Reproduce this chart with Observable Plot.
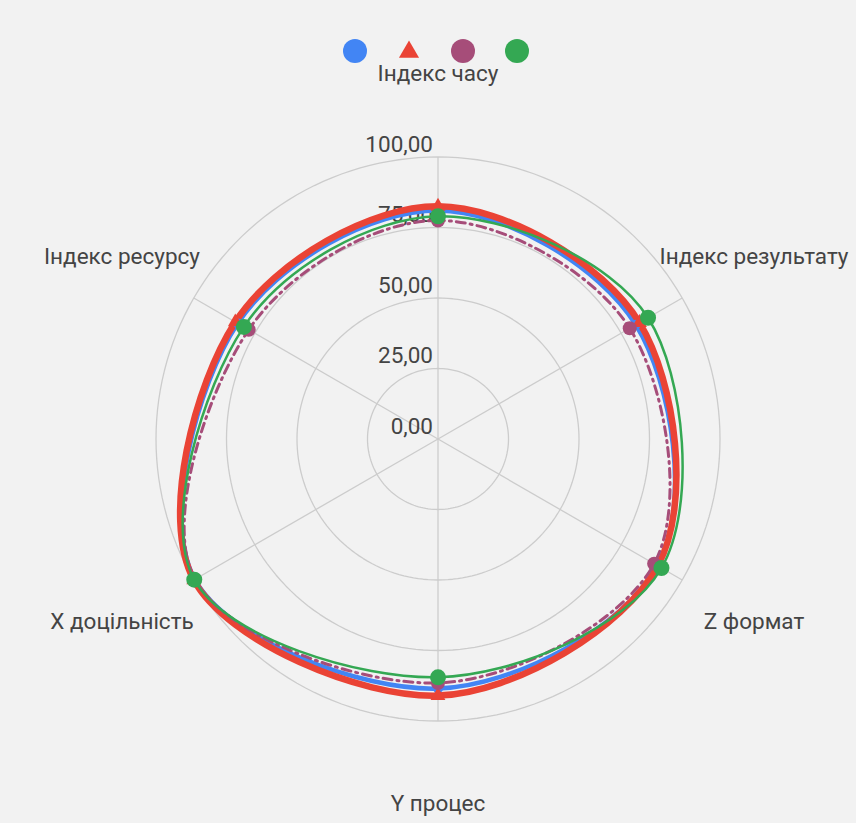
<!DOCTYPE html>
<html><head><meta charset="utf-8">
<script src="https://cdn.jsdelivr.net/npm/d3@7"></script>
<script src="https://cdn.jsdelivr.net/npm/@observablehq/plot@0.6"></script>
<style>
html,body{margin:0;padding:0;background:#f2f2f2;font-family:Roboto,sans-serif;}
#legend{height:60px;width:856px;}
#legend svg{display:block;overflow:visible;}
</style></head><body>
<div id="legend"></div>
<div id="chart"></div>
<script>
// ---- data ----
const categories = ["Індекс часу", "Індекс результату", "Z формат", "Y процес", "X доцільність", "Індекс ресурсу"];
const seriesNames = ["Серія 1", "Серія 2", "Серія 3", "Серія 4"];
const blueValues   = [81.0, 81.0, 90.0, 88.5, 99.6, 82.0];
const redValues    = [82.5, 82.5, 90.0, 91.0, 100.0, 83.0];
const purpleValues = [77.5, 78.5, 88.5, 86.5, 99.6, 77.5];
const greenValues  = [79.0, 86.0, 91.5, 84.5, 99.8, 79.5];
const ringValues = [25, 50, 75, 100];
const tickValues = [0, 25, 50, 75, 100];
const tickLabels = ["0,00", "25,00", "50,00", "75,00", "100,00"];

// ---- styles ----
const seriesStyles = [
  {color: "#4285f4", width: 4.5, dash: null, symbol: "circle", r: 5},
  {color: "#ea4335", width: 6.5, dash: null, symbol: "triangle", r: 5.5},
  {color: "#a64d79", width: 3, dash: "9,5,2,5", symbol: "circle", r: 7},
  {color: "#34a853", width: 2.5, dash: null, symbol: "circle", r: 8}
];
const seriesValues = [blueValues, redValues, purpleValues, greenValues];

// ---- legend ----
const leg = d3.select("#legend").append("svg").attr("width", 856).attr("height", 70);
seriesNames.forEach((name, i) => {
  const st = seriesStyles[i];
  const cxL = 436 + (i - 1.5) * 54, cyL = 51;
  if (st.symbol === "triangle") {
    leg.append("path").attr("d", d3.symbol(d3.symbolTriangle, 175)())
      .attr("transform", `translate(${cxL},${cyL + 1})`).attr("fill", st.color);
  } else {
    leg.append("circle").attr("cx", cxL).attr("cy", cyL).attr("r", 12).attr("fill", st.color);
  }
});

// ---- geometry ----
const W = 856, H = 763, cx = 437.5, cy = 378.5, k = 2.82;
const n = categories.length;
const ang = i => i * 2 * Math.PI / n;
const px = (v, i) => v * Math.sin(ang(i));
const py = (v, i) => v * Math.cos(ang(i));

const rows = [];
seriesNames.forEach((s, si) => seriesValues[si].forEach((v, i) =>
  rows.push({series: s, si, cat: categories[i], value: v, x: px(v, i), y: py(v, i)})));

const ringPts = [];
ringValues.forEach(r => { for (let a = 0; a < 360; a += 2) {
  const t = a * Math.PI / 180; ringPts.push({r, x: r * Math.sin(t), y: r * Math.cos(t)}); } });

const labelR = 129.4;

const marks = [
  Plot.line(ringPts, {x: "x", y: "y", z: "r", curve: "linear-closed", stroke: "#cccccc", strokeWidth: 1.3}),
  Plot.link(categories, {x1: () => 0, y1: () => 0, x2: (d, i) => px(100, i), y2: (d, i) => py(100, i), stroke: "#cccccc", strokeWidth: 1.3}),
  Plot.text(tickValues, {x: () => 0, y: d => d, text: (d, i) => tickLabels[i], textAnchor: "end", dx: -5, dy: -12.5, fontSize: 22.5, fill: "#444444"}),
  Plot.text(categories, {x: (d, i) => px(labelR, i), y: (d, i) => py(labelR, i), text: d => d, fontSize: 22.5, fill: "#444444"})
];
seriesNames.forEach((s, si) => {
  const st = seriesStyles[si];
  marks.push(Plot.line(rows.filter(d => d.si === si), {x: "x", y: "y", curve: "cardinal-closed",
    stroke: st.color, strokeWidth: st.width, strokeDasharray: st.dash, strokeLinejoin: "round"}));
});
seriesNames.forEach((s, si) => {
  const st = seriesStyles[si];
  marks.push(Plot.dot(rows.filter(d => d.si === si), {x: "x", y: "y", r: st.r,
    symbol: st.symbol, fill: st.color, stroke: "none"}));
});

const chart = Plot.plot({
  width: W, height: H, margin: 0,
  x: {domain: [-cx / k, (W - cx) / k], axis: null},
  y: {domain: [-(H - cy) / k, cy / k], axis: null},
  style: {background: "transparent", fontFamily: "Roboto, sans-serif", overflow: "visible"},
  marks
});
document.getElementById("chart").appendChild(chart);
</script>
</body></html>
